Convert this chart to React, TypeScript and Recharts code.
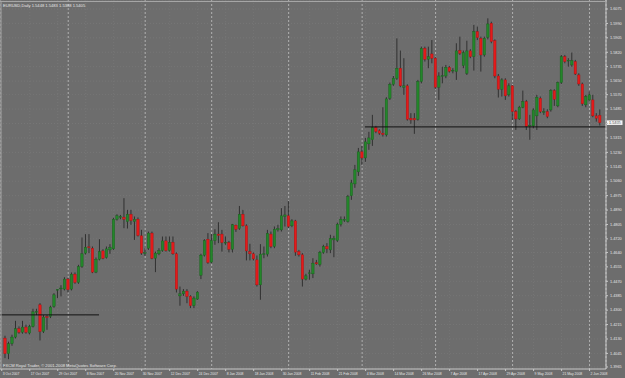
import React from 'react';
import { ComposedChart, Bar, XAxis, YAxis, CartesianGrid, ReferenceLine } from 'recharts';

// Daily EURUSD bars, first visible bar index = 1
const FIRST_BAR = 1;
const opens = [
  1.4135,1.4043,1.4102,1.4141,1.4190,1.4170,1.4200,1.4165,1.4204,1.4288,
  1.4331,1.4174,1.4261,1.4263,1.4322,1.4418,1.4426,1.4424,1.4483,1.4424,
  1.4512,1.4463,1.4557,1.4636,1.4673,1.4665,1.4524,1.4600,1.4649,1.4610,
  1.4655,1.4661,1.4836,1.4846,1.4848,1.4822,1.4865,1.4822,1.4836,1.4738,
  1.4634,1.4665,1.4754,1.4606,1.4632,1.4651,1.4708,1.4651,1.4700,1.4632,
  1.4384,1.4396,1.4412,1.4381,1.4326,1.4365,1.4506,1.4624,1.4718,1.4583,
  1.4710,1.4748,1.4748,1.4696,1.4698,1.4659,1.4801,1.4781,1.4865,1.4797,
  1.4644,1.4632,1.4596,1.4449,1.4628,1.4630,1.4748,1.4675,1.4773,1.4773,
  1.4852,1.4856,1.4797,1.4826,1.4645,1.4626,1.4483,1.4516,1.4514,1.4579,
  1.4569,1.4640,1.4675,1.4655,1.4714,1.4710,1.4806,1.4830,1.4822,1.4974,
  1.5044,1.5115,1.5233,1.5197,1.5280,1.5304,1.5376,1.5357,1.5343,1.5333,
  1.5549,1.5631,1.5667,1.5726,1.5614,1.5622,1.5431,1.5431,1.5425,1.5647,
  1.5843,1.5779,1.5810,1.5785,1.5614,1.5678,1.5680,1.5731,1.5710,1.5706,
  1.5830,1.5741,1.5696,1.5828,1.5794,1.5942,1.5902,1.5804,1.5908,1.5991,
  1.5888,1.5680,1.5602,1.5657,1.5569,1.5622,1.5470,1.5427,1.5496,1.5529,
  1.5386,1.5386,1.5445,1.5549,1.5466,1.5470,1.5480,1.5594,1.5504,1.5641,
  1.5794,1.5769,1.5745,1.5765,1.5686,1.5633,1.5510,1.5539,1.5539,1.5445,1.5448,
];
const highs = [
  1.4149,1.4114,1.4155,1.4237,1.4204,1.4237,1.4214,1.4214,1.4308,1.4308,
  1.4341,1.4271,1.4271,1.4326,1.4400,1.4424,1.4447,1.4494,1.4491,1.4522,
  1.4522,1.4567,1.4728,1.4748,1.4748,1.4675,1.4610,1.4718,1.4659,1.4675,
  1.4689,1.4844,1.4865,1.4861,1.4960,1.4891,1.4891,1.4852,1.4846,1.4773,
  1.4665,1.4763,1.4763,1.4645,1.4665,1.4734,1.4734,1.4734,1.4734,1.4640,
  1.4439,1.4424,1.4424,1.4388,1.4381,1.4412,1.4632,1.4718,1.4754,1.4748,
  1.4777,1.4818,1.4773,1.4734,1.4708,1.4808,1.4803,1.4914,1.4891,1.4806,
  1.4691,1.4640,1.4622,1.4689,1.4675,1.4773,1.4763,1.4793,1.4803,1.4901,
  1.4914,1.4944,1.4836,1.4832,1.4655,1.4636,1.4514,1.4538,1.4606,1.4596,
  1.4649,1.4685,1.4695,1.4744,1.4738,1.4816,1.4852,1.4852,1.4979,1.5068,
  1.5156,1.5256,1.5268,1.5315,1.5351,1.5451,1.5386,1.5366,1.5496,1.5555,
  1.5641,1.5680,1.5902,1.5830,1.5785,1.5631,1.5461,1.5461,1.5657,1.5853,
  1.5853,1.5853,1.5892,1.5794,1.5702,1.5735,1.5745,1.5739,1.5726,1.5873,
  1.5912,1.5830,1.5888,1.5838,1.5981,1.5971,1.5912,1.5912,1.6020,1.6000,
  1.5896,1.5692,1.5667,1.5667,1.5637,1.5627,1.5480,1.5504,1.5594,1.5539,
  1.5451,1.5490,1.5569,1.5559,1.5490,1.5484,1.5602,1.5602,1.5647,1.5804,
  1.5804,1.5785,1.5818,1.5775,1.5696,1.5641,1.5569,1.5588,1.5569,1.5461,1.5483,
];
const lows = [
  1.4017,1.4011,1.4090,1.4133,1.4161,1.4161,1.4161,1.4157,1.4198,1.4271,
  1.4121,1.4165,1.4184,1.4253,1.4314,1.4371,1.4381,1.4416,1.4404,1.4416,
  1.4455,1.4455,1.4549,1.4628,1.4636,1.4518,1.4518,1.4593,1.4600,1.4604,
  1.4632,1.4655,1.4828,1.4836,1.4783,1.4781,1.4803,1.4714,1.4734,1.4626,
  1.4620,1.4655,1.4600,1.4524,1.4624,1.4644,1.4645,1.4645,1.4626,1.4404,
  1.4326,1.4384,1.4341,1.4312,1.4312,1.4361,1.4483,1.4616,1.4573,1.4577,
  1.4685,1.4695,1.4645,1.4685,1.4640,1.4640,1.4761,1.4773,1.4793,1.4593,
  1.4593,1.4593,1.4439,1.4361,1.4606,1.4616,1.4665,1.4665,1.4763,1.4763,
  1.4793,1.4783,1.4789,1.4620,1.4616,1.4439,1.4475,1.4479,1.4489,1.4567,
  1.4557,1.4632,1.4636,1.4636,1.4612,1.4702,1.4793,1.4820,1.4816,1.4950,
  1.5021,1.5091,1.5156,1.5174,1.5245,1.5268,1.5343,1.5333,1.5323,1.5323,
  1.5539,1.5622,1.5657,1.5614,1.5569,1.5417,1.5398,1.5339,1.5417,1.5637,
  1.5765,1.5726,1.5755,1.5602,1.5539,1.5637,1.5667,1.5700,1.5696,1.5657,
  1.5804,1.5726,1.5686,1.5785,1.5712,1.5892,1.5706,1.5794,1.5896,1.5873,
  1.5667,1.5553,1.5559,1.5539,1.5559,1.5421,1.5362,1.5421,1.5490,1.5362,
  1.5304,1.5372,1.5362,1.5461,1.5451,1.5431,1.5470,1.5504,1.5496,1.5633,
  1.5755,1.5735,1.5735,1.5686,1.5622,1.5504,1.5496,1.5529,1.5437,1.5411,1.5388,
];
const closes = [
  1.4043,1.4102,1.4141,1.4190,1.4170,1.4200,1.4170,1.4204,1.4290,1.4292,
  1.4174,1.4259,1.4257,1.4318,1.4390,1.4422,1.4430,1.4483,1.4420,1.4512,
  1.4463,1.4557,1.4632,1.4671,1.4669,1.4524,1.4600,1.4645,1.4606,1.4661,
  1.4671,1.4836,1.4856,1.4852,1.4836,1.4865,1.4828,1.4836,1.4740,1.4636,
  1.4638,1.4754,1.4606,1.4636,1.4651,1.4708,1.4651,1.4700,1.4632,1.4424,
  1.4396,1.4412,1.4381,1.4326,1.4371,1.4406,1.4624,1.4710,1.4581,1.4710,
  1.4748,1.4740,1.4698,1.4700,1.4659,1.4803,1.4777,1.4865,1.4797,1.4649,
  1.4632,1.4602,1.4449,1.4630,1.4632,1.4752,1.4675,1.4777,1.4781,1.4856,
  1.4861,1.4793,1.4826,1.4642,1.4626,1.4483,1.4502,1.4520,1.4577,1.4573,
  1.4640,1.4675,1.4661,1.4722,1.4724,1.4806,1.4836,1.4836,1.4969,1.5050,
  1.5127,1.5233,1.5197,1.5292,1.5315,1.5376,1.5353,1.5343,1.5335,1.5545,
  1.5631,1.5667,1.5726,1.5622,1.5622,1.5425,1.5421,1.5421,1.5647,1.5843,
  1.5779,1.5794,1.5785,1.5614,1.5680,1.5682,1.5731,1.5708,1.5714,1.5828,
  1.5814,1.5818,1.5828,1.5794,1.5942,1.5906,1.5804,1.5902,1.5987,1.5883,
  1.5680,1.5602,1.5657,1.5563,1.5622,1.5470,1.5427,1.5496,1.5529,1.5382,
  1.5390,1.5480,1.5555,1.5470,1.5470,1.5441,1.5594,1.5543,1.5641,1.5794,
  1.5765,1.5773,1.5771,1.5692,1.5633,1.5516,1.5559,1.5569,1.5445,1.5431,1.5405,
];

const dateTicks = [0, 8, 16, 24, 32, 40, 48, 56, 64, 72, 80, 88, 96, 104, 112, 120, 128, 136, 144, 152, 160, 168];
const dateLabels = [
  '3 Oct 2007', '17 Oct 2007', '29 Oct 2007', '8 Nov 2007', '20 Nov 2007', '30 Nov 2007',
  '12 Dec 2007', '24 Dec 2007', '8 Jan 2008', '18 Jan 2008', '30 Jan 2008', '11 Feb 2008',
  '21 Feb 2008', '4 Mar 2008', '14 Mar 2008', '26 Mar 2008', '7 Apr 2008', '17 Apr 2008',
  '29 Apr 2008', '9 May 2008', '21 May 2008', '2 Jun 2008',
];
const priceTicks = [
  1.6075, 1.5990, 1.5905, 1.5820, 1.5735, 1.5650, 1.5570, 1.5485, 1.5400, 1.5315, 1.5230, 1.5145, 1.5060,
  1.4975, 1.4890, 1.4805, 1.4720, 1.4640, 1.4555, 1.4470, 1.4385, 1.4300, 1.4215, 1.4130, 1.4045, 1.3965,
];
const monthStarts = [19, 41, 60, 82, 103, 124, 146, 168];
const levelFrom = [-0.5, 103.8];
const levelTo = [27.8, 172.7];
const levelPrice = [1.4272, 1.5380];
const lastPrice = 1.5405;
const symbolTitle = 'EURUSD,Daily  1.5448 1.5483 1.5388 1.5405';
const copyright = 'FXCM Royal Trader, \u00a9 2001-2008 MetaQuotes Software Corp.';

const data = opens.map((o, k) => ({
  i: k + FIRST_BAR,
  o,
  h: highs[k],
  l: lows[k],
  c: closes[k],
  range: [lows[k], highs[k]],
}));

const X_DOMAIN: [number, number] = [-0.5, 172.7];
const FONT = '"Liberation Sans", Arial, sans-serif';
const TEXT = '#e6e6e6';
const AXIS = '#c8c8c8';

function Candle(props: any) {
  const { x, y, width, height, payload } = props;
  if (x == null || y == null || !payload) return null;
  const { o, h, l, c } = payload;
  const top0 = Math.min(y, y + height);
  const hgt = Math.abs(height);
  const span = h - l;
  const k = span > 0 ? hgt / span : 0;
  const yOf = (v: number) => top0 + (h - v) * k;
  const cx = x + width / 2;
  const up = c >= o;
  const bTop = yOf(Math.max(o, c));
  const bBot = yOf(Math.min(o, c));
  const bh = Math.max(bBot - bTop, 0.8);
  return (
    <g>
      <line x1={cx} x2={cx} y1={top0} y2={top0 + hgt} stroke="#2a2a2a" strokeWidth={0.9} />
      <rect
        x={cx - 1.2}
        y={bTop}
        width={2.4}
        height={bh}
        fill={up ? '#23862a' : '#e41a1a'}
        stroke={up ? '#185e1c' : '#a81212'}
        strokeWidth={0.4}
      />
    </g>
  );
}

function DateTick(props: any) {
  const { x, y, payload } = props;
  const idx = dateTicks.indexOf(payload.value);
  const label = idx >= 0 ? dateLabels[idx] : '';
  return (
    <text x={x + 1} y={y + 3.6} fontSize={3.4} fill={TEXT} fontFamily={FONT} textAnchor="start">
      {label}
    </text>
  );
}

function PriceTick(props: any) {
  const { x, y, payload } = props;
  return (
    <text x={x} y={y + 1.3} fontSize={3.8} fill={TEXT} fontFamily={FONT} textAnchor="start">
      {Number(payload.value).toFixed(4)}
    </text>
  );
}

function PriceBox(props: any) {
  const vb = props.viewBox || {};
  const x = (vb.x ?? 0) + (vb.width ?? 0) + 1;
  const y = vb.y ?? 0;
  return (
    <g>
      <rect x={x} y={y - 2.3} width={15.5} height={4.6} fill="#f4f4f4" />
      <text x={x + 2} y={y + 1.3} fontSize={3.8} fill="#333" fontFamily={FONT} textAnchor="start">
        {lastPrice.toFixed(4)}
      </text>
    </g>
  );
}

export default function App() {
  return (
    <div style={{ position: 'absolute', left: 0, top: 0, width: 625, height: 378, background: '#6d6d6d' }}>
      <ComposedChart width={625} height={378} data={data} margin={{ top: 0, right: 0, bottom: 0, left: 0 }}>
        <CartesianGrid stroke="#767676" strokeDasharray="1 2" />
        <CartesianGrid xAxisId="sep" horizontal={false} stroke="#c2c2c2" strokeDasharray="2 2" strokeWidth={0.8} />
        <XAxis
          type="number"
          dataKey="i"
          domain={X_DOMAIN}
          ticks={dateTicks}
          interval={0}
          allowDataOverflow
          height={9}
          tickSize={2}
          tickMargin={0}
          axisLine={{ stroke: AXIS }}
          tickLine={{ stroke: AXIS }}
          tick={<DateTick />}
        />
        <XAxis
          xAxisId="sep"
          type="number"
          dataKey="i"
          domain={X_DOMAIN}
          ticks={monthStarts}
          interval={0}
          allowDataOverflow
          hide
        />
        <YAxis
          orientation="right"
          type="number"
          domain={[1.3953, 1.6128]}
          ticks={priceTicks}
          interval={0}
          allowDataOverflow
          width={19}
          tickSize={2}
          tickMargin={2}
          axisLine={{ stroke: AXIS }}
          tickLine={{ stroke: AXIS }}
          tick={<PriceTick />}
        />
        <Bar dataKey="range" barSize={3} shape={<Candle />} isAnimationActive={false} />
        {levelPrice.map((p, n) => (
          <ReferenceLine
            key={'lv' + n}
            segment={[{ x: levelFrom[n], y: p }, { x: levelTo[n], y: p }]}
            stroke="#111111"
            strokeWidth={1}
            ifOverflow="visible"
          />
        ))}
        <ReferenceLine y={lastPrice} stroke="none" strokeOpacity={0} label={<PriceBox />} />
      </ComposedChart>
      <svg
        width={625}
        height={378}
        style={{ position: 'absolute', left: 0, top: 0, pointerEvents: 'none' }}
      >
        <line x1={0} x2={606} y1={1.5} y2={1.5} stroke="#a6a6a6" strokeWidth={1} />
        <line x1={1} x2={1} y1={1} y2={369} stroke="#a6a6a6" strokeWidth={1} />
        <text x={3} y={6.8} fontSize={4.1} fill={TEXT} fontFamily={FONT}>
          {symbolTitle}
        </text>
        <text x={3} y={367.4} fontSize={4.1} fill={TEXT} fontFamily={FONT}>
          {copyright}
        </text>
      </svg>
    </div>
  );
}
